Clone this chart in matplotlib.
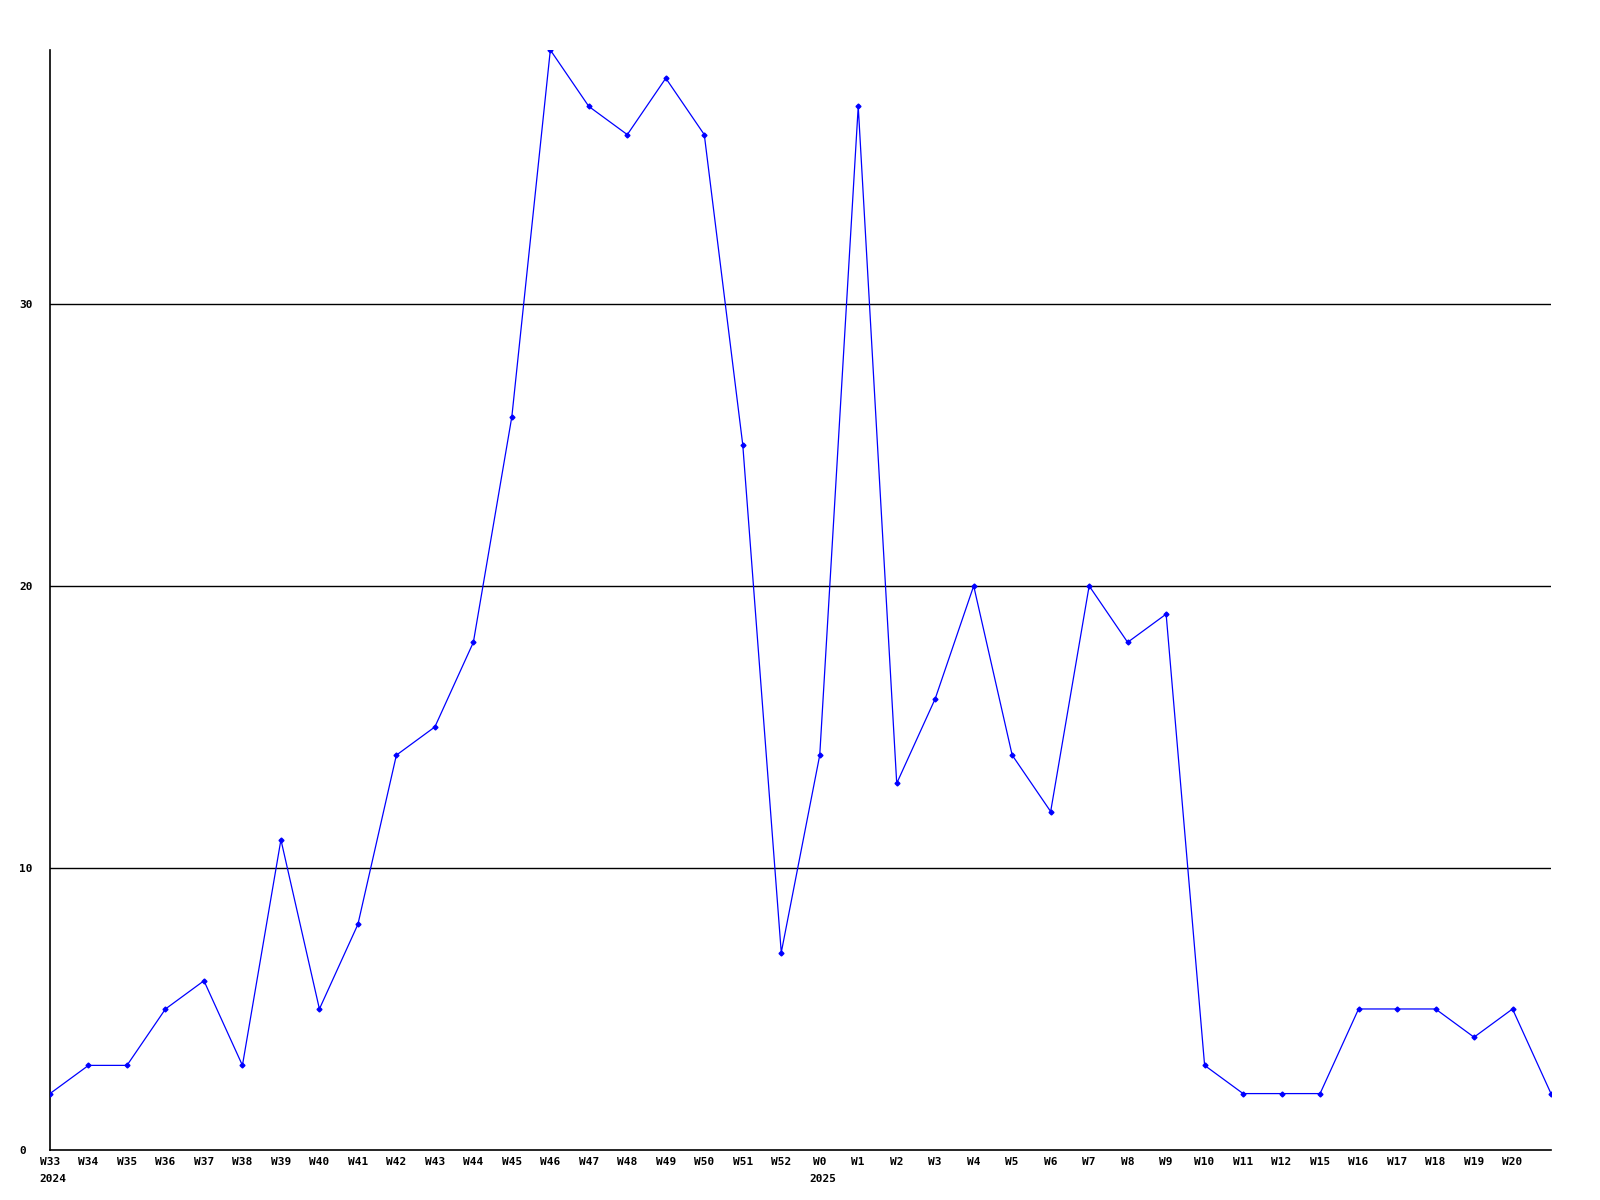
import matplotlib
matplotlib.use("Agg")
from matplotlib import pyplot as plt

# weekly counts
weeks = ["W33", "W34", "W35", "W36", "W37", "W38", "W39", "W40", "W41", "W42",
         "W43", "W44", "W45", "W46", "W47", "W48", "W49", "W50", "W51", "W52",
         "W0", "W1", "W2", "W3", "W4", "W5", "W6", "W7", "W8", "W9",
         "W10", "W11", "W12", "W15", "W16", "W17", "W18", "W19", "W20", ""]
counts = [2, 3, 3, 5, 6, 3, 11, 5, 8, 14,
          15, 18, 26, 39, 37, 36, 38, 36, 25, 7,
          14, 37, 13, 16, 20, 14, 12, 20, 18, 19,
          3, 2, 2, 2, 5, 5, 5, 4, 5, 2]
years = {"W33": "2024", "W0": "2025"}
yticks = [0, 10, 20, 30]

plt.rcParams['font.family'] = ['DejaVu Sans Mono']

fig = plt.figure(figsize=(16, 12), dpi=100)
ax = fig.add_axes([50/1600, 50/1200, 1501/1600, 1100/1200])

x = list(range(len(counts)))
ax.plot(x, counts, color='#0000ff', lw=0.9, marker='D', ms=2.5, zorder=3)

ax.set_xlim(0, len(counts) - 1)
ax.set_ylim(0, 39)

for v in yticks[1:]:
    ax.axhline(v, color='black', lw=1, zorder=1)

ax.set_xticks(x)
ax.set_xticklabels(weeks, fontsize=8, fontweight='bold')
ax.set_yticks(yticks)
ax.set_yticklabels([str(v) for v in yticks], fontsize=8, fontweight='bold', ha='left')
ax.tick_params(axis='x', length=0, pad=5)
ax.tick_params(axis='y', length=0, pad=22)

for i, w in enumerate(weeks):
    if w in years:
        ax.annotate(years[w], xy=(i, 0), xycoords=('data', 'axes fraction'),
                    xytext=(-7.5, -17), textcoords='offset points',
                    ha='left', va='top', fontsize=8, fontweight='bold')

for side in ['top', 'right']:
    ax.spines[side].set_visible(False)
ax.spines['left'].set_linewidth(1.2)
ax.spines['bottom'].set_linewidth(1.2)

fig.savefig("out.png", dpi=100)
